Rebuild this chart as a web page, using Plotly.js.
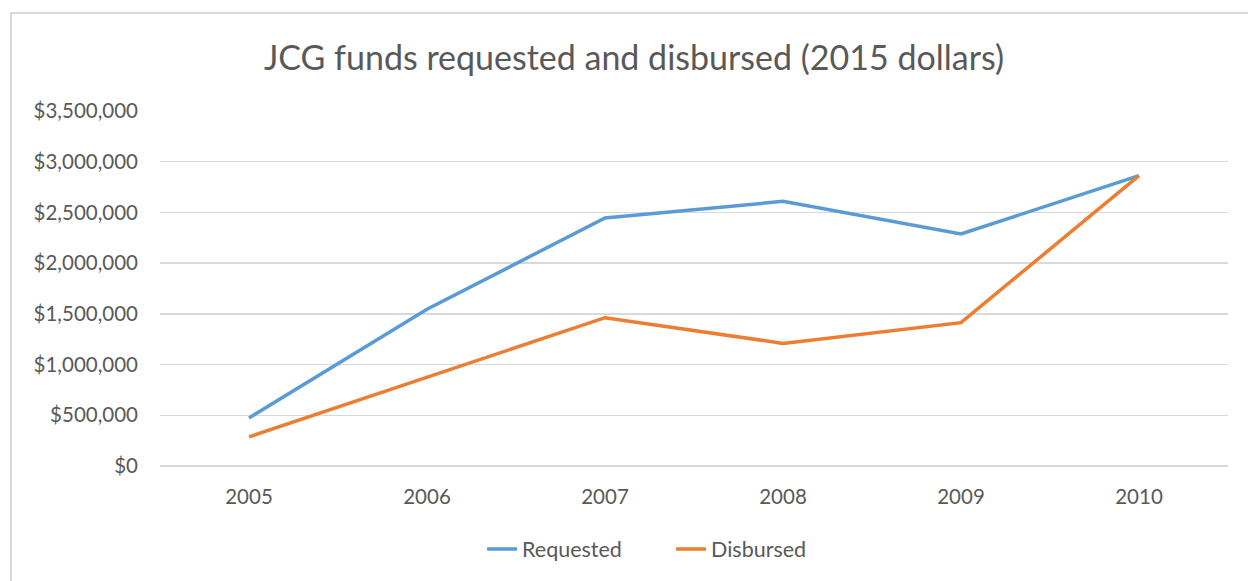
<!DOCTYPE html>
<html>
<head>
<meta charset="utf-8">
<script src="https://cdn.plot.ly/plotly-3.0.1.min.js"></script>
<style>
  html, body { margin: 0; padding: 0; background: #ffffff; }
  #frame { position: absolute; left: 10px; top: 12px; width: 1240px; height: 580px;
           border-left: 2px solid #d9d9d9; border-top: 2px solid #d9d9d9; }
  #chart { position: absolute; left: 0; top: 0; width: 1248px; height: 581px; }
</style>
</head>
<body>
<div id="frame"></div>
<div id="chart"></div>
<script>
const years = ['2005', '2006', '2007', '2008', '2009', '2010'];
const requested = [474000, 1545000, 2446000, 2609000, 2287000, 2863000];
const disbursed = [287000, 877000, 1462000, 1209000, 1413000, 2863000];
const yTicks = [0, 500000, 1000000, 1500000, 2000000, 2500000, 3000000, 3500000];
const yTickLabels = ['$0', '$500,000', '$1,000,000', '$1,500,000', '$2,000,000', '$2,500,000', '$3,000,000', '$3,500,000'];

const fontFam = 'Lato, "Open Sans", sans-serif';
const traces = [
  { x: years, y: requested, name: 'Requested', type: 'scatter', mode: 'lines',
    line: { color: '#5b9bd5', width: 3.5 } },
  { x: years, y: disbursed, name: 'Disbursed', type: 'scatter', mode: 'lines',
    line: { color: '#ed7d31', width: 3.5 } }
];
const layout = {
  width: 1248, height: 581,
  paper_bgcolor: 'rgba(0,0,0,0)', plot_bgcolor: 'rgba(0,0,0,0)',
  margin: { l: 160, r: 20, t: 111, b: 115, autoexpand: false },
  font: { family: fontFam, color: '#595959', size: 20.5 },
  title: { text: 'JCG funds requested and disbursed (2015 dollars)',
           font: { family: fontFam, size: 34, color: '#595959' },
           x: 0.508, xanchor: 'center', y: 0.9, yanchor: 'middle', yref: 'container' },
  xaxis: { type: 'category', range: [-0.5, 5.5], showgrid: false, zeroline: false,
           showline: false, ticks: '', tickfont: { size: 20.5, color: '#595959' }, ticklabelstandoff: 16 },
  yaxis: { range: [0, 3500000], tickvals: yTicks, ticktext: yTickLabels,
           showgrid: true, gridcolor: '#d9d9d9', gridwidth: 1.5, zeroline: true,
           zerolinecolor: '#d9d9d9', zerolinewidth: 1.5, showline: false, ticks: '',
           tickfont: { size: 20.5, color: '#595959' }, ticklabelstandoff: 21 },
  showlegend: true,
  legend: { orientation: 'h', xref: 'container', yref: 'container',
            x: 0.5377, xanchor: 'center', y: 0.055, yanchor: 'middle',
            font: { size: 21.5, color: '#595959' }, entrywidth: 144, entrywidthmode: 'pixels' }
};
Plotly.newPlot('chart', traces, layout, { displayModeBar: false, staticPlot: true });
</script>
</body>
</html>
